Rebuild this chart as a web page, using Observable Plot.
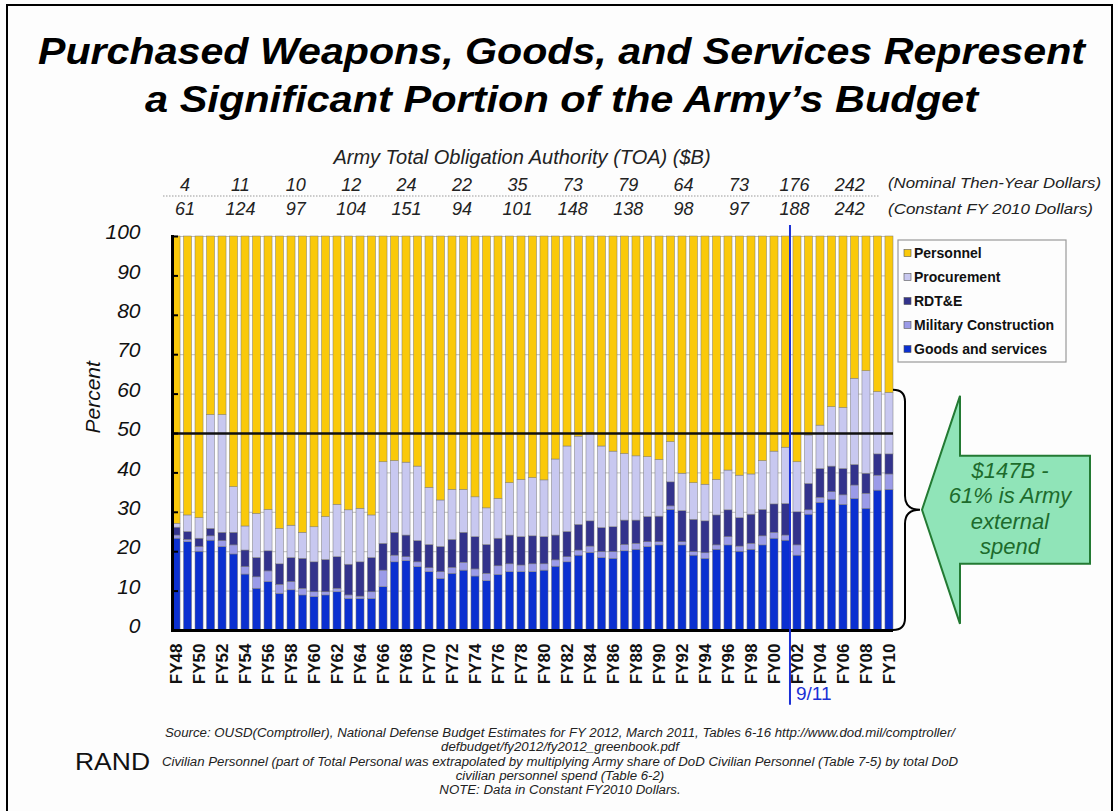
<!DOCTYPE html>
<html>
<head>
<meta charset="utf-8">
<script src="https://cdn.jsdelivr.net/npm/d3@7"></script>
<script src="https://cdn.jsdelivr.net/npm/@observablehq/plot@0.6"></script>
<style>
  body { margin: 0; background: #ffffff; }
  #wrap { position: relative; width: 1118px; height: 811px; overflow: hidden; background: #fdfdfd; font-family: "Liberation Sans", Arial, sans-serif; }
  #frame { position: absolute; left: 6px; top: 4px; width: 1107px; height: 900px; border: 2px solid #000; box-sizing: border-box; }
  #plot, #over { position: absolute; left: 0; top: 0; }
</style>
</head>
<body>
<div id="wrap">
  <div id="frame"></div>
  <div id="plot"></div>
  <svg id="over" width="1118" height="811"></svg>
</div>
<script>
// ---------------- data ----------------
const years = ["FY48","FY49","FY50","FY51","FY52","FY53","FY54","FY55","FY56","FY57",
  "FY58","FY59","FY60","FY61","FY62","FY63","FY64","FY65","FY66","FY67",
  "FY68","FY69","FY70","FY71","FY72","FY73","FY74","FY75","FY76","FY77",
  "FY78","FY79","FY80","FY81","FY82","FY83","FY84","FY85","FY86","FY87",
  "FY88","FY89","FY90","FY91","FY92","FY93","FY94","FY95","FY96","FY97",
  "FY98","FY99","FY00","FY01","FY02","FY03","FY04","FY05","FY06","FY07",
  "FY08","FY09","FY10"];

const goods = [23.3,22.4,20.0,22.8,21.2,19.3,14.2,10.6,12.3,9.3,
  10.2,8.9,8.5,8.9,9.7,8.0,8.0,8.0,11.0,17.3,
  17.6,16.1,14.8,13.1,14.4,15.2,13.7,12.5,14.1,14.8,
  14.8,14.8,15.2,16.2,17.3,19.0,19.7,18.4,18.2,20.1,
  20.5,21.2,21.6,30.6,21.6,19.0,18.2,20.5,21.6,20.0,
  20.5,21.6,23.3,22.8,19.0,29.4,32.4,33.2,31.9,33.4,
  30.9,35.5,35.7];
const milcon = [0.8,0.6,1.2,1.1,1.5,2.3,1.9,2.9,2.7,2.3,
  2.1,1.7,1.2,0.8,0.9,0.9,0.6,1.7,4.2,1.7,
  1.0,1.2,1.0,1.7,1.5,2.0,1.8,1.9,2.2,2.0,
  1.7,2.0,1.6,1.6,1.3,1.3,1.6,1.5,1.7,1.6,
  1.5,1.2,0.8,0.9,0.8,0.9,1.4,1.1,2.1,1.3,
  1.5,2.3,1.5,1.3,2.6,1.1,1.3,1.9,2.4,3.4,
  3.8,3.8,3.9];
const rdte = [2.0,2.0,2.1,1.9,2.1,3.2,4.2,4.9,5.1,5.2,
  6.1,7.6,7.6,8.2,8.0,7.8,8.7,8.7,6.8,5.8,
  5.5,5.4,5.9,6.4,7.1,7.6,8.2,7.3,7.0,7.3,
  7.2,7.1,6.9,6.3,6.4,6.5,6.4,6.1,6.3,6.2,
  5.9,6.4,6.5,6.1,7.9,8.2,8.1,7.6,6.8,7.2,
  7.4,6.7,7.2,8.0,8.4,6.7,7.3,6.5,6.7,5.2,
  5.1,5.4,5.1];
const procurement = [1.0,4.2,5.2,28.9,29.9,11.6,6.1,11.2,10.5,9.0,
  8.2,6.6,8.9,10.9,13.3,13.8,13.6,10.8,20.7,18.2,
  18.5,18.9,14.5,11.8,12.7,10.9,10.1,9.3,10.1,13.3,
  14.5,14.8,14.4,19.3,21.7,22.4,22.4,20.7,19.2,16.9,
  16.3,15.2,14.4,10.2,9.5,9.3,9.3,9.0,10.1,10.8,
  10.2,12.4,13.4,14.3,12.7,12.3,11.0,15.1,15.5,21.9,
  26.0,15.8,15.6];
const personnel = [72.9,70.8,71.5,45.3,45.3,63.6,73.6,70.4,69.4,74.2,
  73.4,75.2,73.8,71.2,68.1,69.5,69.1,70.8,57.3,57.0,
  57.4,58.4,63.8,67.0,64.3,64.3,66.2,69.0,66.6,62.6,
  61.8,61.3,61.9,56.6,53.3,50.8,49.9,53.3,54.6,55.2,
  55.8,56.0,56.7,52.2,60.2,62.6,63.0,61.8,59.4,60.7,
  60.4,57.0,54.6,53.6,57.3,50.5,48.0,43.3,43.5,36.1,
  34.2,39.5,39.7];

// stacking order bottom -> top
const seriesNames = ["Goods and services","Military Construction","RDT&E","Procurement","Personnel"];
const seriesValues = [goods, milcon, rdte, procurement, personnel];
const seriesColors = ["#0b30d0","#9b9be8","#33338c","#c8c8f0","#fac90a"];
const legendOrder = ["Personnel","Procurement","RDT&E","Military Construction","Goods and services"];

const yTicks = [0,10,20,30,40,50,60,70,80,90,100];
const xTickLabels = years.filter((d, i) => i % 2 === 0);

const nominalTOA  = ["4","11","10","12","24","22","35","73","79","64","73","176","242"];
const constantTOA = ["61","124","97","104","151","94","101","148","138","98","97","188","242"];

const externalShare = 61;     // % bracketed on the right
const eventYear = "FY01";
const eventLabel = "9/11";

// ---------------- table ----------------
const table = [];
years.forEach((yr, i) => {
  seriesNames.forEach((s, k) => table.push({year: yr, series: s, value: seriesValues[k][i]}));
});

// ---------------- plot ----------------
const chart = Plot.plot({
  width: 1118,
  height: 811,
  marginLeft: 172,
  marginRight: 225,
  marginTop: 236,
  marginBottom: 181,
  style: {background: "transparent", fontFamily: "'Liberation Sans', Arial, sans-serif", overflow: "visible"},
  x: {type: "band", domain: years, paddingInner: 0.3, paddingOuter: 0},
  y: {domain: [0, 100]},
  color: {domain: seriesNames, range: seriesColors},
  marks: [
    Plot.gridY(yTicks.slice(1), {stroke: "#bcbcbc", strokeOpacity: 1, strokeWidth: 1}),
    Plot.barY(table, Plot.stackY({x: "year", y: "value", fill: "series", order: null, stroke: "#7a7a7a", strokeWidth: 0.5})),
    Plot.ruleY([50], {stroke: "#111", strokeWidth: 2.5}),
    Plot.ruleY([0], {stroke: "#000", strokeWidth: 3}),
    Plot.frame({anchor: "left", stroke: "#000", strokeWidth: 3}),
    Plot.axisY({ticks: yTicks, tickSize: -6, tickFormat: () => "", stroke: "#000", strokeWidth: 2, label: null}),
    Plot.axisY({ticks: yTicks, tickSize: 0, tickPadding: 32, fontSize: 21, fontStyle: "italic", fill: "#111", label: null, dy: -4}),
    Plot.axisX({ticks: xTickLabels, tickSize: 0, tickPadding: 13, tickRotate: -90, fontSize: 17, fontWeight: "bold", fill: "#111", label: null}),
    Plot.text(["Percent"], {frameAnchor: "left", dx: -79, rotate: -90, fontSize: 21, fontStyle: "italic", fill: "#111"}),
    Plot.ruleX([eventYear], {dx: 4, y1: -19, y2: 102.8, stroke: "#1a2fd6", strokeWidth: 2}),
    Plot.text([eventLabel], {x: () => eventYear, y: () => -16, dx: 10, textAnchor: "start", fill: "#1a2fd6", fontSize: 19})
  ]
});
document.getElementById("plot").appendChild(chart);

// ---------------- overlay annotations ----------------
const yScale = chart.scale("y");
const svg = d3.select("#over");
const font = "'Liberation Sans', Arial, sans-serif";
const narrow = "'Liberation Sans Narrow', 'Arial Narrow', 'Liberation Sans', Arial, sans-serif";

// title
const titleLines = [
  {t: "Purchased Weapons, Goods, and Services Represent", x: 38, w: 1047, y: 64},
  {t: "a Significant Portion of the Army’s Budget", x: 145, w: 833, y: 112}
];
titleLines.forEach(l => {
  svg.append("text").attr("x", l.x).attr("y", l.y).attr("textLength", l.w)
    .attr("lengthAdjust", "spacingAndGlyphs")
    .style("font-family", font).style("font-size", "36px").style("font-weight", "bold")
    .style("font-style", "italic").style("fill", "#000").text(l.t);
});

// TOA header table
svg.append("text").attr("x", 522).attr("y", 164).attr("text-anchor", "middle")
  .style("font-family", font).style("font-size", "20px").style("font-style", "italic").style("fill", "#222")
  .text("Army Total Obligation Authority (TOA) ($B)");
svg.append("line").attr("x1", 163).attr("x2", 880).attr("y1", 196).attr("y2", 196)
  .style("stroke", "#999").style("stroke-width", 1).style("stroke-dasharray", "1.5,1.5");
nominalTOA.forEach((v, i) => {
  svg.append("text").attr("x", 185 + i * 55.4).attr("y", 191).attr("text-anchor", "middle")
    .style("font-family", narrow).style("font-size", "18px").style("font-style", "italic").style("fill", "#222").text(v);
});
constantTOA.forEach((v, i) => {
  svg.append("text").attr("x", 185 + i * 55.4).attr("y", 215).attr("text-anchor", "middle")
    .style("font-family", narrow).style("font-size", "18px").style("font-style", "italic").style("fill", "#222").text(v);
});
[["(Nominal Then-Year Dollars)", 188], ["(Constant FY 2010 Dollars)", 214]].forEach(([t, y], k) => {
  svg.append("text").attr("x", 888).attr("y", y).attr("textLength", k === 0 ? 213 : 205)
    .attr("lengthAdjust", "spacingAndGlyphs")
    .style("font-family", font).style("font-size", "14px").style("font-style", "italic").style("fill", "#222").text(t);
});

// legend
svg.append("rect").attr("x", 898).attr("y", 240).attr("width", 168).attr("height", 122)
  .style("fill", "#fdfdfd").style("stroke", "#9a9a9a").style("stroke-width", 1.2);
legendOrder.forEach((name, i) => {
  const cy = 253 + i * 24;
  const col = seriesColors[seriesNames.indexOf(name)];
  svg.append("rect").attr("x", 904).attr("y", cy - 3.5).attr("width", 7).attr("height", 7)
    .style("fill", col).style("stroke", "#555").style("stroke-width", 0.6);
  svg.append("text").attr("x", 914).attr("y", cy + 5)
    .style("font-family", font).style("font-size", "14px").style("font-weight", "bold").style("fill", "#111").text(name);
});

// brace from 0 to externalShare
const yT = yScale.apply(externalShare), yB = yScale.apply(0), yM = (yT + yB) / 2;
const bx0 = 893, bx1 = 905, tip = 920;
svg.append("path")
  .attr("d", `M${bx0},${yT} Q${bx1},${yT} ${bx1},${yT + 12} L${bx1},${yM - 14} Q${bx1},${yM} ${tip},${yM} Q${bx1},${yM} ${bx1},${yM + 14} L${bx1},${yB - 12} Q${bx1},${yB} ${bx0},${yB}`)
  .style("fill", "none").style("stroke", "#000").style("stroke-width", 2);

// green arrow
const ax = 922, hx = 960, rx = 1090;
svg.append("path")
  .attr("d", `M${ax},${yM} L${hx},${yM - 114} L${hx},${yM - 54} L${rx},${yM - 54} L${rx},${yM + 54} L${hx},${yM + 54} L${hx},${yM + 114} Z`)
  .style("fill", "#90e4b8").style("stroke", "#237a33").style("stroke-width", 2).style("stroke-linejoin", "miter");
["$147B -", "61% is Army", "external", "spend"].forEach((t, i) => {
  svg.append("text").attr("x", 1010).attr("y", yM - 32 + i * 25.5).attr("text-anchor", "middle")
    .style("font-family", font).style("font-size", "22px").style("font-style", "italic").style("fill", "#1d6b2c").text(t);
});

// footer: all lines share one horizontal squeeze, set by the first line's width
const footer = [
  {t: "Source: OUSD(Comptroller), National Defense Budget Estimates for FY 2012, March 2011, Tables 6-16  http://www.dod.mil/comptroller/", y: 737},
  {t: "defbudget/fy2012/fy2012_greenbook.pdf", y: 751},
  {t: "Civilian Personnel (part of Total Personal was extrapolated by multiplying Army share of DoD Civilian Personnel (Table 7-5) by total DoD", y: 766},
  {t: "civilian personnel spend (Table 6-2)", y: 780},
  {t: "NOTE: Data in Constant FY2010 Dollars.", y: 794}
];
const footNodes = footer.map(l => svg.append("text").attr("x", 560).attr("y", l.y).attr("text-anchor", "middle")
    .style("font-family", narrow).style("font-size", "12.5px").style("font-style", "italic").style("fill", "#222").text(l.t));
const ratio = 790 / footNodes[0].node().getComputedTextLength();
footNodes.forEach(n => {
  const w = n.node().getComputedTextLength();
  n.attr("textLength", w * ratio).attr("lengthAdjust", "spacingAndGlyphs");
});
svg.append("text").attr("x", 75).attr("y", 770).attr("textLength", 75).attr("lengthAdjust", "spacingAndGlyphs")
  .style("font-family", font).style("font-size", "23px").style("fill", "#111").text("RAND");
</script>
</body>
</html>
